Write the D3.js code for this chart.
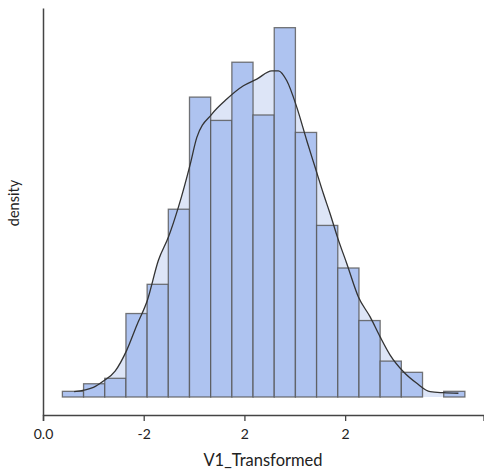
<!DOCTYPE html>
<html>
<head>
<meta charset="utf-8">
<script src="https://cdn.jsdelivr.net/npm/d3@7"></script>
<style>
  body { margin: 0; background: #fff; }
  svg text { font-family: "Lato", "Open Sans", sans-serif; fill: #222; }
</style>
</head>
<body>
<div id="chart"></div>
<script>
// histogram bins (lower edge of first bin, bin width) and densities
var binStart = -3.615;
var binWidth = 0.4207;
var densities = [0.0050, 0.0117, 0.0165, 0.0737, 0.0995, 0.1658, 0.2648, 0.2442,
  0.2956, 0.2490, 0.3261, 0.2336, 0.1515, 0.1139, 0.0675, 0.0317, 0.0218, 0, 0.0050];

// kernel density estimate
var kdeX = [-3.382, -2.999, -2.800, -2.568, -2.336, -2.137, -1.927, -1.708, -1.509, -1.311,
  -1.078, -0.945, -0.647, -0.350, -0.020, 0.246, 0.544, 0.675, 0.842, 1.041, 1.239, 1.404,
  1.569, 1.702, 1.847, 2.034, 2.264, 2.497, 2.695, 2.894, 3.158, 3.424, 3.688, 3.952, 4.250];
var kdeY = [0.0047, 0.0085, 0.0141, 0.0229, 0.0414, 0.0634, 0.0854, 0.1207, 0.1412, 0.1676,
  0.2052, 0.2292, 0.2498, 0.2631, 0.2748, 0.2807, 0.2880, 0.2880, 0.2792, 0.2557, 0.2263, 0.2028,
  0.1794, 0.1618, 0.1412, 0.1177, 0.0883, 0.0707, 0.0531, 0.0370, 0.0223, 0.0121, 0.0047, 0.0038, 0.0033];

// axis ticks (labels as shown in the original)
var tickValues = [-4, -2, 0, 2];
var tickLabels = ["0.0", "-2", "2", "2"];

var xTitle = "V1_Transformed";
var yTitle = "density";

var width = 484, height = 474;
var svg = d3.select("#chart").append("svg")
  .attr("width", width).attr("height", height);

var x = d3.scaleLinear().domain([-4, 4.75]).range([43, 483.6]);
var y = d3.scaleLinear().domain([0, 0.35]).range([397, 0.6]);
var yAxisScale = d3.scaleLinear().domain([0, 1]).range([415, 8]);

var bins = densities.map(function(d, i){
  return {x0: binStart + i * binWidth, x1: binStart + (i + 1) * binWidth, v: d};
});
var kde = kdeX.map(function(d, i){ return [d, kdeY[i]]; });

// area under the density curve
svg.append("path")
  .datum(kde)
  .attr("fill", "#dde5f7")
  .attr("d", d3.area()
    .x(function(d){ return x(d[0]); })
    .y0(y(0))
    .y1(function(d){ return y(d[1]); })
    .curve(d3.curveMonotoneX));

// bars
svg.append("g").selectAll("rect")
  .data(bins.filter(function(d){ return d.v > 0; }))
  .join("rect")
  .attr("x", function(d){ return x(d.x0); })
  .attr("width", function(d){ return x(d.x1) - x(d.x0); })
  .attr("y", function(d){ return y(d.v); })
  .attr("height", function(d){ return y(0) - y(d.v); })
  .attr("fill", "#aec3f0")
  .attr("stroke", "#555")
  .attr("stroke-opacity", 0.8)
  .attr("stroke-width", 1.3);

// density line
svg.append("path")
  .datum(kde)
  .attr("fill", "none")
  .attr("stroke", "#333")
  .attr("stroke-width", 1.3)
  .attr("d", d3.line()
    .x(function(d){ return x(d[0]); })
    .y(function(d){ return y(d[1]); })
    .curve(d3.curveMonotoneX));

// axes
var gx = svg.append("g")
  .attr("transform", "translate(0,415)")
  .call(d3.axisBottom(x).tickValues(tickValues)
    .tickFormat(function(d, i){ return tickLabels[i]; })
    .tickSizeOuter(0).tickSize(6).tickPadding(8));
var gy = svg.append("g")
  .attr("transform", "translate(43,0)")
  .call(d3.axisLeft(yAxisScale).tickValues([]).tickSizeOuter(0));

[gx, gy].forEach(function(g){
  g.select(".domain").attr("stroke", "#444").attr("stroke-width", 1.5);
  g.selectAll(".tick line").attr("stroke", "#444").attr("stroke-width", 1.3);
  g.selectAll(".tick text").attr("font-size", 14).attr("fill", "#222")
    .style("font-family", "Lato, 'Open Sans', sans-serif");
});

svg.append("text")
  .attr("x", 263).attr("y", 466)
  .attr("text-anchor", "middle")
  .attr("font-size", 16.5)
  .text(xTitle);

svg.append("text")
  .attr("transform", "translate(19,203) rotate(-90)")
  .attr("text-anchor", "middle")
  .attr("font-size", 14.5)
  .text(yTitle);
</script>
</body>
</html>
